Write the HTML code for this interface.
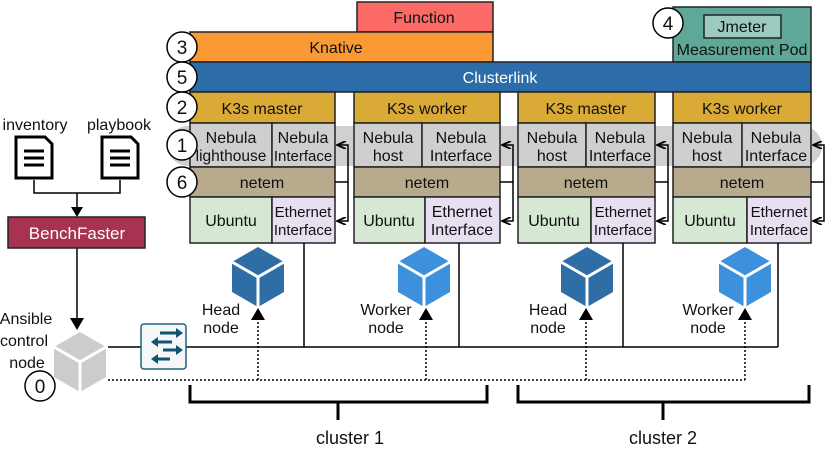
<!DOCTYPE html>
<html><head><meta charset="utf-8"><style>body{margin:0;background:#fff}svg{display:block}text{font-family:"Liberation Sans",Arial,sans-serif;font-size:16px;fill:#111}</style></head><body>
<svg width="830" height="461" viewBox="0 0 830 461" xmlns="http://www.w3.org/2000/svg">
<defs>
<marker id="sa" markerWidth="10" markerHeight="8" refX="9" refY="4" orient="auto" markerUnits="userSpaceOnUse"><path d="M0,0 L9,4 L0,8" fill="none" stroke="#000" stroke-width="1.8"/></marker>
<g id="cube"><polygon points="0,-30 26,-15 26,15 0,30 -26,15 -26,-15"/><path d="M-26,-15 L0,0 L26,-15 M0,0 L0,30" stroke="#fff" stroke-width="3" fill="none"/></g>
</defs>
<rect x="168" y="126" width="654" height="40" rx="20" fill="#d0d0d0"/>
<g stroke="#222" stroke-width="1.5">
<rect x="357" y="2" width="136" height="30" fill="#fc6a67"/>
<rect x="190" y="32" width="303" height="30" fill="#fb9a35"/>
<rect x="673" y="7" width="138" height="55" fill="#5fa797"/>
<rect x="704" y="15" width="77" height="23" fill="#9ccabe"/>
<rect x="190" y="62" width="621" height="30" fill="#2b6ca9"/>
</g>
<text x="424" y="23" text-anchor="middle">Function</text>
<text x="336" y="53" text-anchor="middle">Knative</text>
<text x="742" y="32" text-anchor="middle">Jmeter</text>
<text x="742" y="55" text-anchor="middle">Measurement Pod</text>
<text x="500" y="83" text-anchor="middle" style="fill:#fff">Clusterlink</text>
<g stroke="#222" stroke-width="1.5">
<rect x="190" y="92" width="145" height="31" fill="#d9aa36"/><rect x="354" y="92" width="146" height="31" fill="#d9aa36"/><rect x="518" y="92" width="137" height="31" fill="#d9aa36"/><rect x="673" y="92" width="138" height="31" fill="#d9aa36"/>
<rect x="190" y="123" width="82" height="44" fill="#cfcfcf"/><rect x="272" y="123" width="63" height="44" fill="#cfcfcf"/>
<rect x="354" y="123" width="68" height="44" fill="#cfcfcf"/><rect x="422" y="123" width="78" height="44" fill="#cfcfcf"/>
<rect x="518" y="123" width="68" height="44" fill="#cfcfcf"/><rect x="586" y="123" width="69" height="44" fill="#cfcfcf"/>
<rect x="673" y="123" width="69" height="44" fill="#cfcfcf"/><rect x="742" y="123" width="69" height="44" fill="#cfcfcf"/>
<rect x="190" y="167" width="145" height="30" fill="#b7aa8d"/><rect x="354" y="167" width="146" height="30" fill="#b7aa8d"/><rect x="518" y="167" width="137" height="30" fill="#b7aa8d"/><rect x="673" y="167" width="138" height="30" fill="#b7aa8d"/>
<rect x="190" y="197" width="82" height="46" fill="#d6e8d3"/><rect x="272" y="197" width="63" height="46" fill="#e8dff0"/>
<rect x="354" y="197" width="71" height="46" fill="#d6e8d3"/><rect x="425" y="197" width="75" height="46" fill="#e8dff0"/>
<rect x="518" y="197" width="73" height="46" fill="#d6e8d3"/><rect x="591" y="197" width="64" height="46" fill="#e8dff0"/>
<rect x="673" y="197" width="74" height="46" fill="#d6e8d3"/><rect x="747" y="197" width="64" height="46" fill="#e8dff0"/>
</g>
<g text-anchor="middle">
<text x="262" y="114">K3s master</text><text x="427" y="114">K3s worker</text><text x="586" y="114">K3s master</text><text x="742" y="114">K3s worker</text>
<text x="231" y="143">Nebula</text><text x="231" y="161" style="font-size:15.5px">lighthouse</text><text x="303" y="143">Nebula</text><text x="303" y="161" style="font-size:15px">Interface</text>
<text x="388" y="143">Nebula</text><text x="388" y="161">host</text><text x="461" y="143">Nebula</text><text x="461" y="161">Interface</text>
<text x="552" y="143">Nebula</text><text x="552" y="161">host</text><text x="620" y="143">Nebula</text><text x="620" y="161">Interface</text>
<text x="707" y="143">Nebula</text><text x="707" y="161">host</text><text x="776" y="143">Nebula</text><text x="776" y="161">Interface</text>
<text x="262" y="188">netem</text><text x="427" y="188">netem</text><text x="586" y="188">netem</text><text x="742" y="188">netem</text>
<text x="231" y="226">Ubuntu</text><text x="303" y="217" style="font-size:15px">Ethernet</text><text x="303" y="235" style="font-size:15px">Interface</text>
<text x="389" y="226">Ubuntu</text><text x="462" y="217">Ethernet</text><text x="462" y="235">Interface</text>
<text x="554" y="226">Ubuntu</text><text x="623" y="217" style="font-size:15px">Ethernet</text><text x="623" y="235" style="font-size:15px">Interface</text>
<text x="710" y="226">Ubuntu</text><text x="779" y="217" style="font-size:15px">Ethernet</text><text x="779" y="235" style="font-size:15px">Interface</text>
</g>
<g stroke="#000" stroke-width="1.5" fill="none">
<path d="M335,182 H348 V145 H337" marker-end="url(#sa)"/><path d="M348,182 V221 H337" marker-end="url(#sa)"/>
<path d="M500,182 H513 V145 H502" marker-end="url(#sa)"/><path d="M513,182 V221 H502" marker-end="url(#sa)"/>
<path d="M655,182 H668 V145 H657" marker-end="url(#sa)"/><path d="M668,182 V221 H657" marker-end="url(#sa)"/>
<path d="M811,182 H824 V145 H813" marker-end="url(#sa)"/><path d="M824,182 V221 H813" marker-end="url(#sa)"/>
</g>
<g stroke="#000" stroke-width="1.5" fill="#fff">
<circle cx="182" cy="47" r="15"/><circle cx="182" cy="77" r="15"/><circle cx="182" cy="107" r="15"/><circle cx="182" cy="145" r="15"/><circle cx="182" cy="182" r="15"/><circle cx="668" cy="23" r="15"/><circle cx="40" cy="386" r="15"/>
</g>
<g text-anchor="middle">
<text x="182" y="54" style="font-size:19px">3</text><text x="182" y="84" style="font-size:19px">5</text><text x="182" y="114" style="font-size:19px">2</text><text x="182" y="152" style="font-size:19px">1</text><text x="182" y="189" style="font-size:19px">6</text><text x="668" y="30" style="font-size:19px">4</text><text x="40" y="393" style="font-size:19px">0</text>
</g>
<g stroke="#000" stroke-width="1.5" fill="none">
<path d="M108,347 H778 M304,243 V347 M459,243 V347 M623,243 V347 M778,243 V347"/>
</g>
<g stroke="#000" stroke-width="1.5" fill="none" stroke-dasharray="2,2">
<path d="M108,380 H745 M258,380 V318 M426,380 V318 M586,380 V318 M745,380 V318"/>
</g>
<g fill="#000"><path d="M258,308 l-7,12 h14z M426,308 l-7,12 h14z M586,308 l-7,12 h14z M745,308 l-7,12 h14z"/></g>
<use href="#cube" x="258" y="277" fill="#2e6da6"/>
<use href="#cube" x="424" y="277" fill="#3d90db"/>
<use href="#cube" x="587" y="277" fill="#2e6da6"/>
<use href="#cube" x="745" y="277" fill="#3d90db"/>
<use href="#cube" x="80" y="362" fill="#cccccc"/>
<text x="221" y="315" text-anchor="middle">Head</text><text x="221" y="333" text-anchor="middle">node</text>
<text x="386" y="315" text-anchor="middle">Worker</text><text x="386" y="333" text-anchor="middle">node</text>
<text x="548" y="315" text-anchor="middle">Head</text><text x="548" y="333" text-anchor="middle">node</text>
<text x="708" y="315" text-anchor="middle">Worker</text><text x="708" y="333" text-anchor="middle">node</text>
<text x="26" y="324" text-anchor="middle">Ansible</text><text x="24" y="346" text-anchor="middle">control</text><text x="27" y="368" text-anchor="middle">node</text>
<rect x="141" y="324" width="45" height="45" rx="3" fill="#f5f6f7" stroke="#1f6080" stroke-width="1.5"/>
<g stroke="#0d5570" stroke-width="3" fill="#0d5570">
<path d="M160,333 H178"/><path d="M176,328 l7,5 l-7,5z" stroke="none"/>
<path d="M156,342 H172"/><path d="M158,337 l-7,5 l7,5z" stroke="none"/>
<path d="M163,350 H178"/><path d="M176,345 l7,5 l-7,5z" stroke="none"/>
<path d="M156,359 H170"/><path d="M158,354 l-7,5 l7,5z" stroke="none"/>
</g>
<g stroke="#000" stroke-width="3" fill="none">
<path d="M190,385 V402 H487 V385 M338,402 V420"/>
<path d="M518,385 V402 H809 V385 M663,402 V420"/>
</g>
<text x="350" y="444" text-anchor="middle" style="font-size:18px">cluster 1</text>
<text x="663" y="444" text-anchor="middle" style="font-size:18px">cluster 2</text>
<text x="35" y="130" text-anchor="middle">inventory</text>
<text x="119" y="130" text-anchor="middle">playbook</text>
<g stroke="#000" stroke-width="3" fill="#fff">
<path d="M16,137 H45 L52,144 V178 H16z"/><path d="M102,137 H131 L138,144 V178 H102z"/>
</g>
<g stroke="#000" stroke-width="3"><path d="M24,151 H44 M24,158 H44 M24,165 H44 M110,151 H130 M110,158 H130 M110,165 H130"/></g>
<g stroke="#000" stroke-width="1.5" fill="none">
<path d="M34,180 V193 H120 V180 M77,193 V207"/>
<path d="M77,248 V318"/>
</g>
<path d="M77,217 l-6,-10 h12z M77,330 l-7,-12 h14z" fill="#000"/>
<rect x="8" y="217" width="137" height="31" fill="#a83350" stroke="#222" stroke-width="1.5"/>
<text x="77" y="239" text-anchor="middle" style="fill:#fff;font-size:17px">BenchFaster</text>
</svg>
</body></html>
